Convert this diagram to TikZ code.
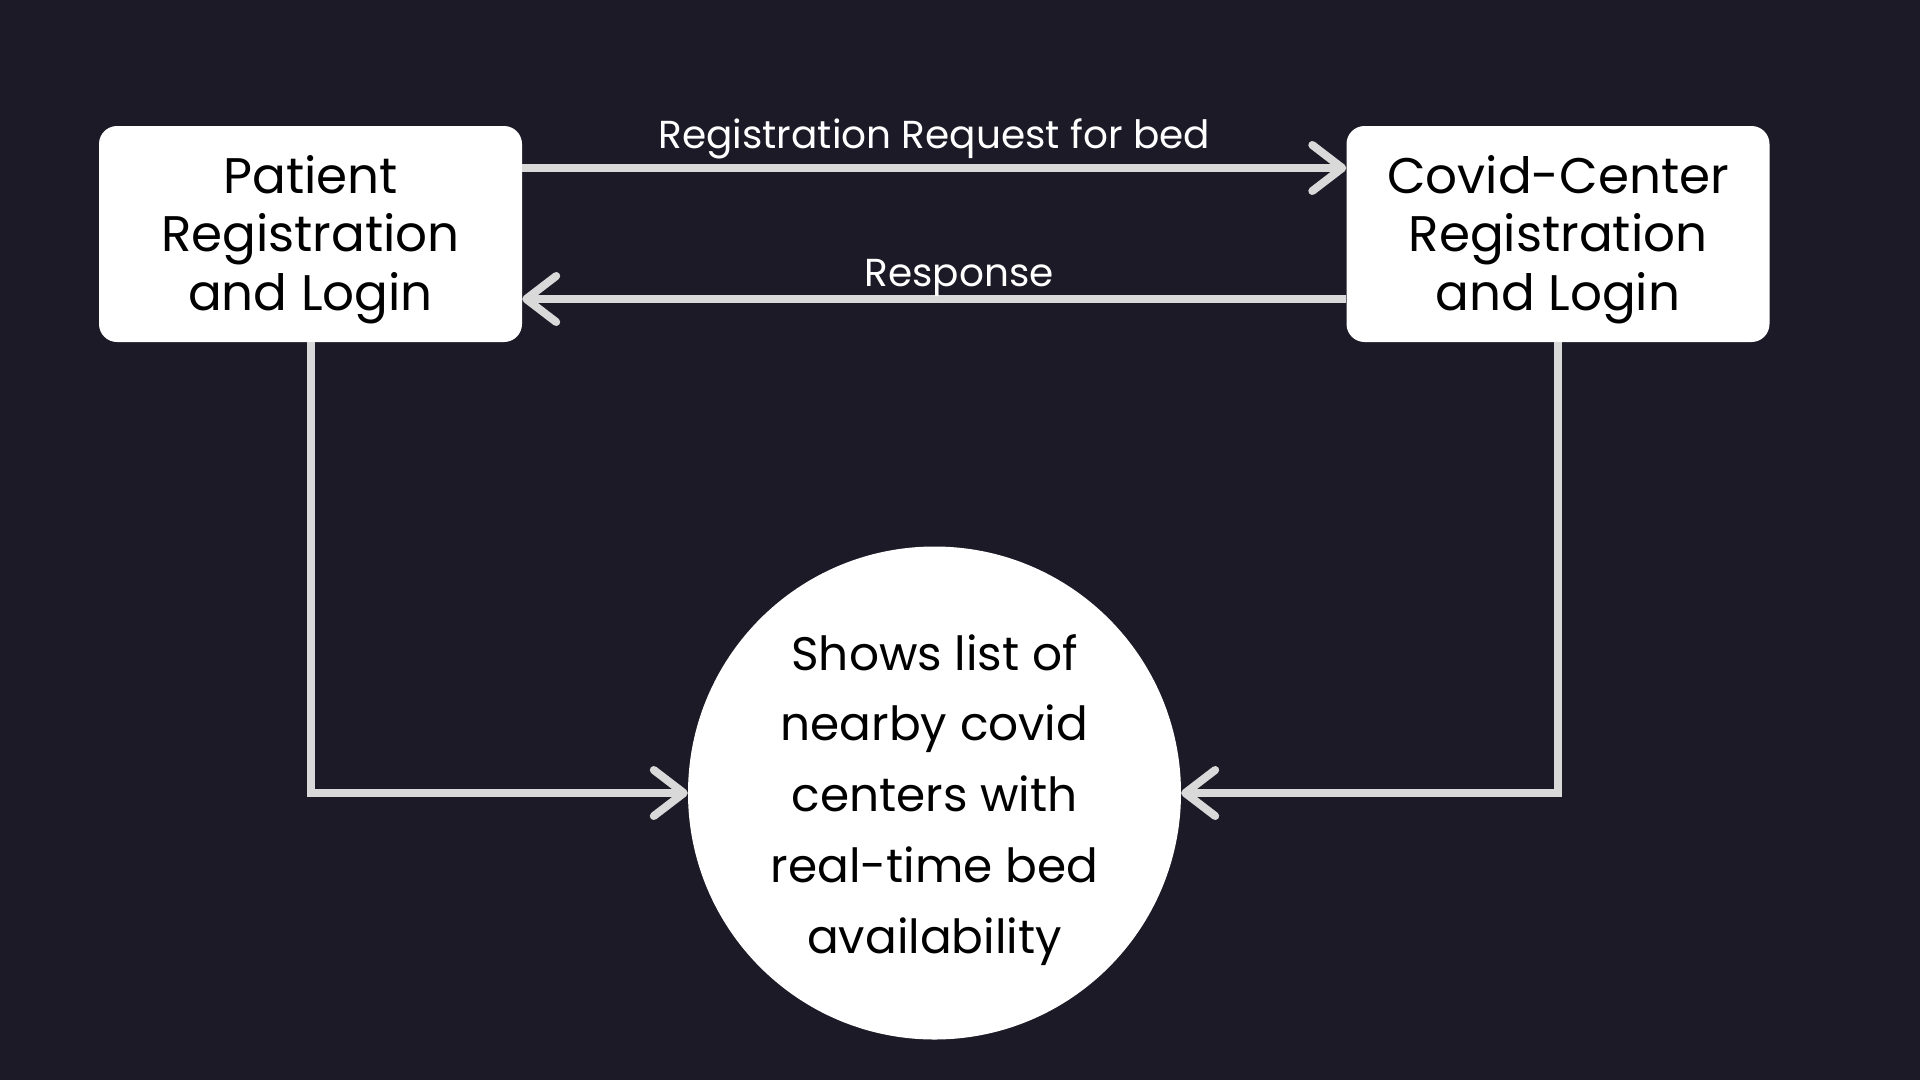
\documentclass[tikz,border=0pt]{standalone}
\usepackage{fontspec}
\setmainfont{Poppins}
\usetikzlibrary{arrows.meta}
\definecolor{bgdark}{HTML}{1B1A26}
\definecolor{linegray}{HTML}{D9D9D9}

\begin{document}
\begin{tikzpicture}[x=1pt, y=-1pt,
        box/.style={rectangle, fill=white, rounded corners=18pt, minimum width=423pt,
            minimum height=216pt, align=center, text height=162pt, text depth=10pt,
            font=\fontsize{50}{58.5}\selectfont},
        bubble/.style={circle, fill=white, minimum size=493pt, align=center,
            text height=330pt, text depth=10pt, font=\fontsize{47}{70.75}\selectfont},
        flow/.style={linegray, line width=8pt,
            -{Straight Barb[round, length=30pt, width=46pt]}},
        flowlabel/.style={text=white, font=\fontsize{39}{44}\selectfont}]
        \fill [bgdark] (0,0) rectangle (1920,1080);
        \useasboundingbox (0,0) rectangle (1920,1080);
        \node [box] (patient) at (310.5,234) {Patient\\Registration\\and Login};
        \node [box] (center) at (1558,234) {Covid-Center\\Registration\\and Login};
        \node [bubble] (list) at (934.5,793) {Shows list of\\nearby covid\\centers with\\real-time bed\\availability};
        \draw [flow] ([yshift=66pt]patient.east) -- ([yshift=66pt]center.west)
            node [flowlabel, midway, above=2pt] {Registration Request for bed};
        \draw [flow] ([yshift=-65pt]center.west) -- ([yshift=-65pt]patient.east)
            node [flowlabel, midway, above=-5pt, xshift=25pt] {Response};
        \draw [flow] (patient.south) |- (list.west);
        \draw [flow] (center.south) |- (list.east);
    \end{tikzpicture}
\end{document}
